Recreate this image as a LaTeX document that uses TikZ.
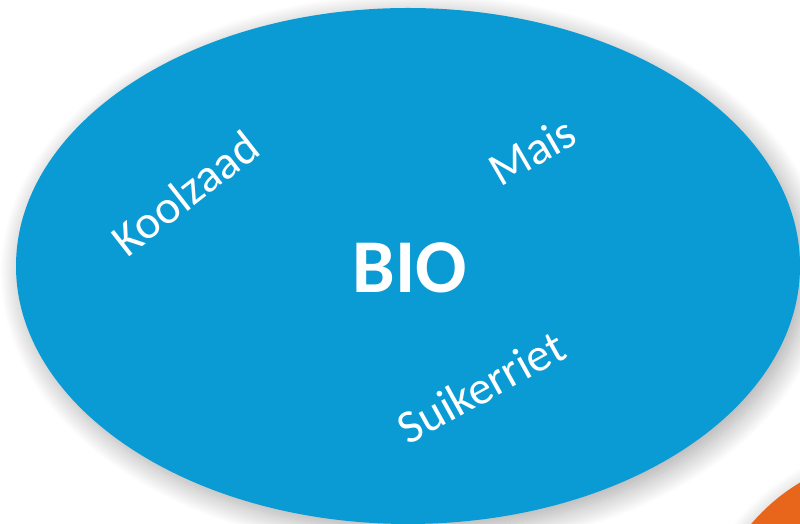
\documentclass[tikz,border=0pt]{standalone}
\usepackage{fontspec}
\setmainfont{Carlito}
\usetikzlibrary{math,shadows.blur}

\definecolor{bioblue}{HTML}{0A9BD4}
\definecolor{bioorange}{HTML}{E8651C}

\tikzset{
  crop/.style={white, font=\fontsize{47}{54}\selectfont, inner sep=0pt},
}

\begin{document}
\begin{tikzpicture}[x=1pt, y=1pt]
  \tikzmath{\w = 800; \h = 524;}
  \useasboundingbox (0, 0) rectangle (\w, \h);
  \clip (0, 0) rectangle (\w, \h);

  \fill[bioorange, blur shadow={shadow xshift=-3pt, shadow yshift=-3pt, shadow blur radius=14pt, shadow blur steps=20, shadow opacity=20}]
    (900, -126) circle (195);

  \fill[bioblue, blur shadow={shadow xshift=6pt, shadow yshift=-7pt, shadow blur radius=22pt, shadow blur steps=30, shadow opacity=35}]
    (408, 258) ellipse [x radius=392, y radius=258];

  \node[white, font=\fontsize{76}{90}\selectfont\bfseries, inner sep=0pt] (bio) at (410, 256) {BIO};

  \node[crop, rotate=38] (koolzaad) at (185, 331) {Koolzaad};
  \node[crop, rotate=30] (mais) at (532, 373) {Mais};
  \node[crop, rotate=29] (suikerriet) at (481, 137) {Suikerriet};
\end{tikzpicture}
\end{document}
